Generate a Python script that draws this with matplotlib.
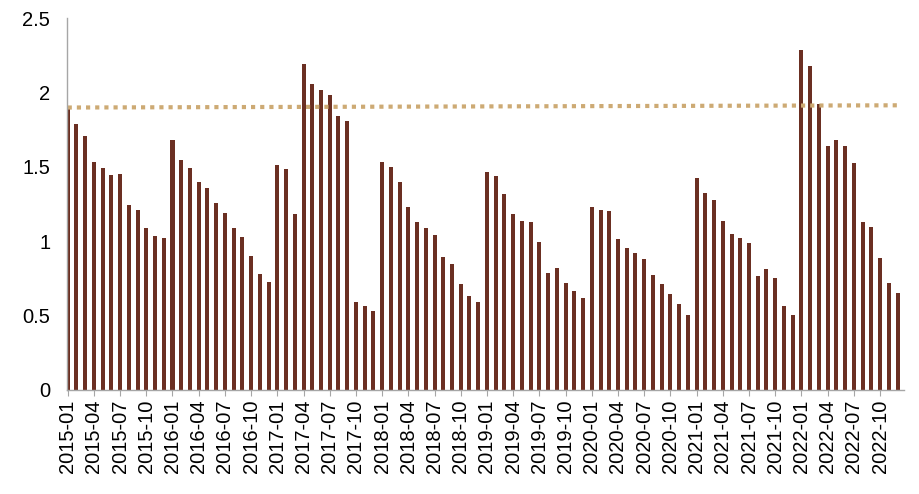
import matplotlib
matplotlib.use("Agg")
import matplotlib.pyplot as plt
import numpy as np

# monthly values 2015-01 .. 2022-12
months = [f"{y}-{m:02d}" for y in range(2015, 2023) for m in range(1, 13)]
values = [
    1.90, 1.79, 1.71, 1.53, 1.49, 1.445, 1.45, 1.24, 1.21, 1.09, 1.035, 1.02,
    1.68, 1.545, 1.49, 1.40, 1.357, 1.255, 1.19, 1.087, 1.03, 0.897, 0.778, 0.726,
    1.51, 1.488, 1.18, 2.19, 2.06, 2.02, 1.985, 1.84, 1.81, 0.589, 0.56, 0.53,
    1.53, 1.50, 1.395, 1.228, 1.13, 1.087, 1.04, 0.895, 0.848, 0.71, 0.63, 0.589,
    1.463, 1.436, 1.316, 1.181, 1.136, 1.127, 0.995, 0.782, 0.816, 0.715, 0.666, 0.62,
    1.228, 1.208, 1.204, 1.017, 0.956, 0.918, 0.877, 0.772, 0.708, 0.645, 0.575, 0.505,
    1.427, 1.323, 1.276, 1.134, 1.046, 1.022, 0.988, 0.765, 0.81, 0.751, 0.562, 0.501,
    2.285, 2.18, 1.927, 1.639, 1.684, 1.643, 1.528, 1.127, 1.093, 0.884, 0.72, 0.65,
]
# dotted reference line, start and end value
ref_line = [1.90, 1.915]

plt.rcParams['font.family'] = ['Liberation Sans', 'DejaVu Sans']

fig = plt.figure(figsize=(9.2, 4.94), dpi=100)
ax = fig.add_axes([0.0728, 0.2115, 0.9072 - 0.0728 + 0.075, 0.9626 - 0.2115])

x = np.arange(len(months))
ax.bar(x, values, width=0.46, color='#6B2F22', zorder=2)
ax.plot([x[0], x[-1]], ref_line, color='#CDAA74', linestyle=(0, (1, 1.2)),
        linewidth=3, zorder=3)

ax.set_xlim(-0.08, 95.7)
ax.set_ylim(0, 2.5)
ax.set_yticks([0, 0.5, 1, 1.5, 2, 2.5])
ax.set_yticklabels(['0', '0.5', '1', '1.5', '2', '2.5'])
ax.set_xticks(x[::3])
ax.set_xticklabels(months[::3], rotation=90)

for side in ['top', 'right']:
    ax.spines[side].set_visible(False)
for side in ['left', 'bottom']:
    ax.spines[side].set_color('#A6A6A6')
    ax.spines[side].set_linewidth(1)
    ax.spines[side].set_zorder(4)

ax.tick_params(axis='y', length=0, pad=12, labelsize=14.5)
ax.tick_params(axis='x', length=4, color='#A6A6A6', pad=3, labelsize=14.5)

fig.savefig("out.png", dpi=100)
